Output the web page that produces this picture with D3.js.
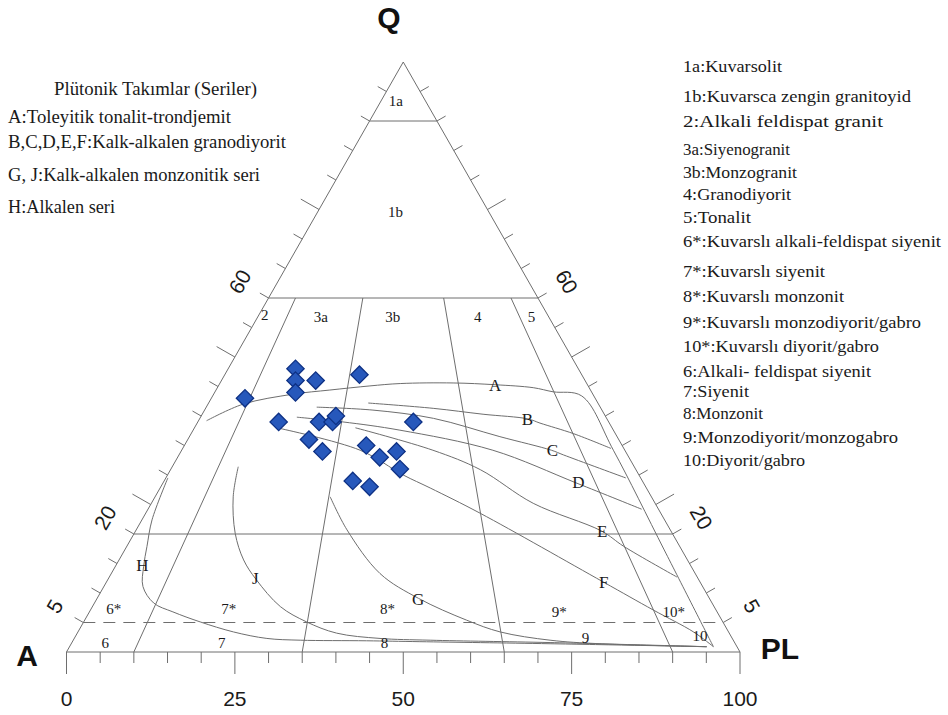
<!DOCTYPE html>
<html><head><meta charset="utf-8">
<script src="https://cdn.jsdelivr.net/npm/d3@7"></script>
<style>
body{margin:0;background:#fff}
svg{display:block}
.serif{font-family:"Liberation Serif","Times New Roman",serif}
.sans{font-family:"Liberation Sans",Arial,sans-serif}
</style>
</head><body>
<svg id="chart" width="948" height="715"></svg>
<script>
// ---------- DATA ----------
// Samples (modal %): Q, A, P
const sampleQ = [48,46,46,44,47,43,39,39,39,40,39,36,34,35,33,34,31,29,28];
const sampleA = [42,43,40,44,33,52,49,43,41,40,29,46,45,38,37,34,35,43,41];
const sampleP = [10,11,14,12,20,5,12,18,20,20,32,18,21,27,30,32,34,28,31];

// Plutonic series trends, points as [Q, P] (A = 100 - Q - P)
const trendA = [[39.2,1.2],[42.0,5.2],[43.7,11.8],[44.4,16.9],[45.1,22.5],[45.5,26.8],[45.6,34.6],[45.3,41.0],[44.8,46.9],[44.1,50.2],[43.4,54.8],[34.2,64.1],[17.3,80.1],[0.9,95.6]];
const trendB = [[42.2,23.7],[41.3,33.8],[40.3,41.7],[39.5,48.8],[38.8,50.9],[37.0,56.8],[34.5,63.6]];
const trendC = [[41.5,16.4],[41.0,25.0],[39.6,34.7],[36.5,46.1],[34.2,54.9],[33.4,57.1],[29.5,68.3]];
const trendD = [[39.8,14.3],[39.0,21.5],[37.6,30.7],[34.2,46.2],[28.6,61.5],[24.2,73.3]];
const trendE = [[38.0,23.9],[34.2,37.3],[30.9,46.0],[25.2,56.7],[20.5,69.2],[17.9,73.8],[12.7,84.3]];
const trendF = [[37.9,12.7],[34.2,26.5],[30.0,35.0],[27.8,40.1],[23.5,49.7],[11.9,73.7],[7.1,83.6],[3.4,91.4],[0.9,95.6]];
const trendG = [[26.3,26.0],[20.7,31.3],[13.3,39.9],[9.1,47.7],[5.4,56.7],[3.4,62.7],[2.0,70.8],[1.4,78.5],[0.9,94.6]];
const trendJ = [[31.4,9.8],[26.3,11.6],[20.1,15.0],[15.6,18.5],[12.3,22.0],[7.7,27.9],[5.1,33.1],[3.2,38.5],[2.3,45.4],[2.0,53.0],[1.6,71.0],[0.9,94.6]];
const trendH = [[29.5,0.3],[22.4,1.5],[17.9,3.0],[14.5,4.2],[11.1,5.8],[8.3,8.8],[6.8,12.4],[5.1,17.3],[3.4,23.1],[2.3,28.6],[2.0,33.7],[1.9,43.6],[1.75,51.6],[1.4,71.1],[0.9,94.6]];
const trendNames = ["A","B","C","D","E","F","G","J","H"];
// trend label anchor points [Q, P]
const trendLabelQ = [45.3,39.5,34.3,28.8,20.5,11.9,9.0,12.5,14.7];
const trendLabelP = [41.0,48.7,55.0,61.6,69.3,73.8,47.7,21.8,3.9];

// Field boundaries
const horizQ = [90,60,20];        // solid Q lines
const dashedQ = [5];              // dashed Q line
const ratioLines = [10,35,65,90]; // P/(A+P) %, from Q=0 to Q=60

// Field labels [name, Q, P]
const fieldNames = ["1a","1b","2","3a","3b","4","5"];
const fieldQ = [93.4,74.7,57.1,56.9,56.9,56.9,56.9];
const fieldP = [2.2,11.5,0.9,9.3,20.0,32.6,40.6];
const lowNames = ["6*","7*","8*","9*","10*","6","7","8","9","10"];
const lowQ = [7.4,7.4,7.3,6.9,6.9,1.5,1.5,1.6,2.5,2.7];
const lowP = [3.3,20.4,44.0,69.7,86.7,5.0,22.3,46.4,75.8,92.7];

// Axis ticks and labels
const bottomLabels = [0,25,50,75,100];
const sideLabels = [60,20,5];

// Legends
const leftTitle = "Plütonik Takımlar (Seriler)";
const leftLegend = ["A:Toleyitik tonalit-trondjemit","B,C,D,E,F:Kalk-alkalen granodiyorit","G, J:Kalk-alkalen monzonitik seri","H:Alkalen seri"];
const rightLegend = ["1a:Kuvarsolit","1b:Kuvarsca zengin granitoyid","2:Alkali feldispat granit","3a:Siyenogranit","3b:Monzogranit","4:Granodiyorit","5:Tonalit","6*:Kuvarslı alkali-feldispat siyenit","7*:Kuvarslı siyenit","8*:Kuvarslı monzonit","9*:Kuvarslı monzodiyorit/gabro","10*:Kuvarslı diyorit/gabro","6:Alkali- feldispat siyenit","7:Siyenit","8:Monzonit","9:Monzodiyorit/monzogabro","10:Diyorit/gabro"];

// ---------- DRAWING ----------
const svg = d3.select("#chart");
svg.append("rect").attr("width",948).attr("height",715).attr("fill","#fff");

const xS = d3.scaleLinear().domain([0,100]).range([66.5,740]);
const yS = d3.scaleLinear().domain([0,100]).range([652,62]);
const proj = (q,p) => [xS(p + q/2), yS(q)];

const lineCol = "#6e6e6e";
const g = svg.append("g");

// triangle
const tri = [proj(0,0), proj(0,100), proj(100,0)];
g.append("path").attr("d","M"+tri.map(d=>d.join(",")).join("L")+"Z")
  .attr("fill","none").attr("stroke",lineCol).attr("stroke-width",1);

// horizontal Q lines
horizQ.forEach(q=>{
  const a=proj(q,0), b=proj(q,100-q);
  g.append("line").attr("x1",a[0]).attr("y1",a[1]).attr("x2",b[0]).attr("y2",b[1])
   .attr("stroke",lineCol).attr("stroke-width",1);
});
dashedQ.forEach(q=>{
  const a=proj(q,0), b=proj(q,100-q);
  g.append("line").attr("x1",a[0]).attr("y1",a[1]).attr("x2",b[0]).attr("y2",b[1])
   .attr("stroke",lineCol).attr("stroke-width",1).attr("stroke-dasharray","12,8");
});
// ratio lines
ratioLines.forEach(r=>{
  const a=proj(0,r), b=proj(60,40*r/100);
  g.append("line").attr("x1",a[0]).attr("y1",a[1]).attr("x2",b[0]).attr("y2",b[1])
   .attr("stroke",lineCol).attr("stroke-width",1);
});

// ticks
const nL=[-0.8686,-0.4957], nR=[0.8686,-0.4957];
for(let k=5;k<100;k+=5){
  const len = (k%25===0)?21:10;
  const a=proj(k,0), b=proj(k,100-k);
  g.append("line").attr("x1",a[0]).attr("y1",a[1]).attr("x2",a[0]+nL[0]*len).attr("y2",a[1]+nL[1]*len)
   .attr("stroke",lineCol).attr("stroke-width",1);
  g.append("line").attr("x1",b[0]).attr("y1",b[1]).attr("x2",b[0]+nR[0]*len).attr("y2",b[1]+nR[1]*len)
   .attr("stroke",lineCol).attr("stroke-width",1);
}
for(let k=0;k<=100;k+=5){
  const len = (k%25===0)?22:11;
  const a=proj(0,k);
  g.append("line").attr("x1",a[0]).attr("y1",a[1]).attr("x2",a[0]).attr("y2",a[1]+len)
   .attr("stroke",lineCol).attr("stroke-width",1);
}

// trend curves
const lineGen = d3.line().x(d=>proj(d[0],d[1])[0]).y(d=>proj(d[0],d[1])[1]).curve(d3.curveCatmullRom.alpha(0.5));
[trendA,trendB,trendC,trendD,trendE,trendF,trendG,trendJ,trendH].forEach(t=>{
  g.append("path").attr("d",lineGen(t)).attr("fill","none").attr("stroke",lineCol).attr("stroke-width",1);
});

// trend labels
trendNames.forEach((n,i)=>{
  const p=proj(trendLabelQ[i],trendLabelP[i]);
  g.append("text").attr("class","serif").attr("x",p[0]).attr("y",p[1]).attr("dy","0.35em")
   .attr("text-anchor","middle").attr("font-size",17).attr("fill","#1a1a1a").text(n);
});

// field labels
fieldNames.forEach((n,i)=>{
  const p=proj(fieldQ[i],fieldP[i]);
  g.append("text").attr("class","serif").attr("x",p[0]).attr("y",p[1]).attr("dy","0.35em")
   .attr("text-anchor","middle").attr("font-size",15).attr("fill","#1a1a1a").text(n);
});
lowNames.forEach((n,i)=>{
  const p=proj(lowQ[i],lowP[i]);
  g.append("text").attr("class","serif").attr("x",p[0]).attr("y",p[1]).attr("dy","0.35em")
   .attr("text-anchor","middle").attr("font-size",15).attr("fill","#1a1a1a").text(n);
});

// samples
const sym = d3.symbol().type(d3.symbolSquare).size(150);
sampleQ.forEach((q,i)=>{
  const p=proj(q,sampleP[i]);
  g.append("path").attr("d",sym()).attr("transform",`translate(${p[0]},${p[1]}) rotate(45)`)
   .attr("fill","#2758bb").attr("stroke","#0e3185").attr("stroke-width",1.3);
});

// bottom axis labels
bottomLabels.forEach(v=>{
  g.append("text").attr("class","sans").attr("x",xS(v)).attr("y",706)
   .attr("text-anchor","middle").attr("font-size",21).attr("fill","#1a1a1a").text(v);
});
// side labels
sideLabels.forEach(v=>{
  const a=proj(v,0), b=proj(v,100-v), o=33;
  g.append("text").attr("class","sans").attr("transform",`translate(${a[0]+nL[0]*o},${a[1]+nL[1]*o}) rotate(-60)`)
   .attr("text-anchor","middle").attr("dy","0.35em").attr("font-size",21).attr("fill","#1a1a1a").text(v);
  g.append("text").attr("class","sans").attr("transform",`translate(${b[0]+nR[0]*o},${b[1]+nR[1]*o}) rotate(60)`)
   .attr("text-anchor","middle").attr("dy","0.35em").attr("font-size",21).attr("fill","#1a1a1a").text(v);
});

// vertex labels
const vtx=[["Q",389,28],["A",27,666],["PL",780,659]];
vtx.forEach(v=>{
  g.append("text").attr("class","sans").attr("x",v[1]).attr("y",v[2]).attr("text-anchor","middle")
   .attr("font-size",30).attr("font-weight","bold").attr("fill","#111").text(v[0]);
});

// left legend
svg.append("text").attr("class","serif").attr("x",54).attr("y",95).attr("font-size",19)
  .attr("textLength",203).attr("lengthAdjust","spacingAndGlyphs").attr("fill","#1a1a1a").text(leftTitle);
const leftY=[123,148,181,213], leftLen=[223,278,252,107];
leftLegend.forEach((t,i)=>{
  svg.append("text").attr("class","serif").attr("x",8).attr("y",leftY[i]).attr("font-size",19)
   .attr("textLength",leftLen[i]).attr("lengthAdjust","spacingAndGlyphs").attr("fill","#1a1a1a").text(t);
});
// right legend
const rightY=[72,102,127,155,178,200,223,247,277,302,328,352,377,397,419,443,466];
const rightLen=[99,228,200,107,114,108,68,258,142,161,238,196,188,66,80,215,122];
rightLegend.forEach((t,i)=>{
  svg.append("text").attr("class","serif").attr("x",683).attr("y",rightY[i]).attr("font-size",17.5)
   .attr("textLength",rightLen[i]).attr("lengthAdjust","spacingAndGlyphs").attr("fill","#1a1a1a").text(t);
});
</script>
</body></html>
